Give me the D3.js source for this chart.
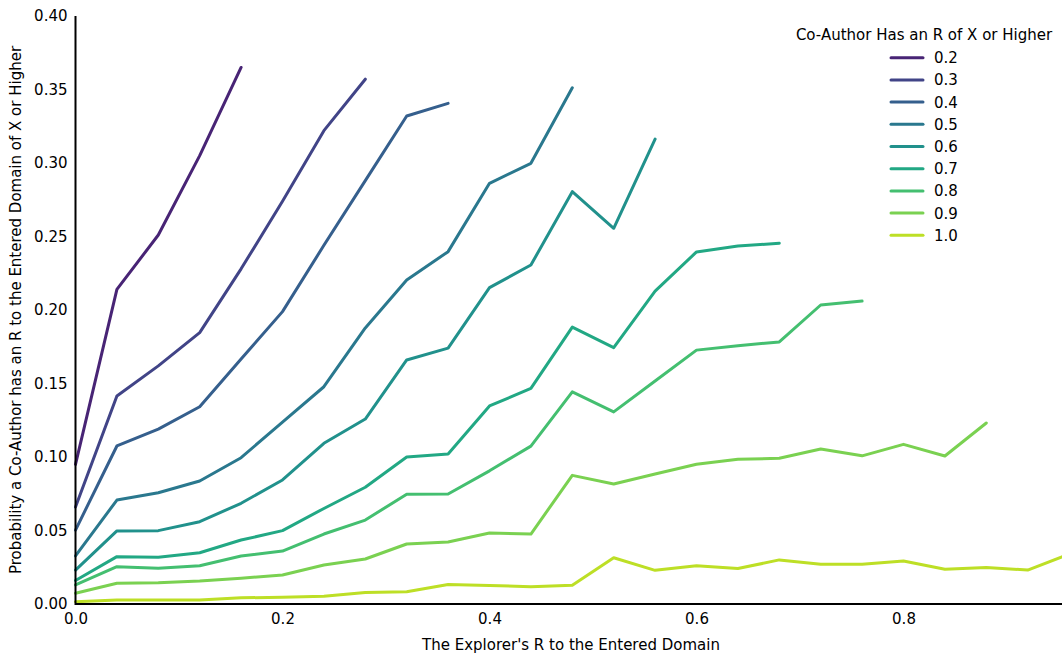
<!DOCTYPE html>
<html>
<head>
<meta charset="utf-8">
<script src="https://cdn.jsdelivr.net/npm/d3@7"></script>
<style>
  html, body { margin: 0; padding: 0; background: #fff; }
  svg { display: block; font-family: "DejaVu Sans", sans-serif; }
</style>
</head>
<body>
<div id="chart"></div>
<script>
// x positions (explorer's R), step 0.04
const xValues = [0.00, 0.04, 0.08, 0.12, 0.16, 0.20, 0.24, 0.28, 0.32, 0.36, 0.40, 0.44,
                 0.48, 0.52, 0.56, 0.60, 0.64, 0.68, 0.72, 0.76, 0.80, 0.84, 0.88, 0.92, 0.96];

const seriesNames = ["0.2", "0.3", "0.4", "0.5", "0.6", "0.7", "0.8", "0.9", "1.0"];

const s02 = [0.095, 0.214, 0.251, 0.305, 0.365];
const s03 = [0.066, 0.1415, 0.162, 0.1846, 0.228, 0.274, 0.322, 0.357];
const s04 = [0.0503, 0.1075, 0.119, 0.1342, 0.1667, 0.1989, 0.244, 0.288, 0.332, 0.3406];
const s05 = [0.0327, 0.0707, 0.0757, 0.0837, 0.0995, 0.1238, 0.1478, 0.1878, 0.2204, 0.2397,
             0.2862, 0.2998, 0.3512];
const s06 = [0.0231, 0.0497, 0.0499, 0.056, 0.0685, 0.0844, 0.1093, 0.1258, 0.166, 0.1741,
             0.2152, 0.2306, 0.2805, 0.2556, 0.3163];
const s07 = [0.016, 0.0322, 0.0318, 0.0349, 0.0435, 0.0499, 0.0650, 0.0794, 0.1, 0.102,
             0.1347, 0.1467, 0.1884, 0.1744, 0.2129, 0.2395, 0.2435, 0.2454];
const s08 = [0.013, 0.0254, 0.0243, 0.026, 0.0327, 0.036, 0.0476, 0.0571, 0.0747, 0.0748,
             0.0906, 0.1074, 0.1443, 0.1307, 0.1517, 0.1727, 0.1757, 0.1783, 0.2034, 0.2061];
const s09 = [0.0073, 0.0141, 0.0145, 0.0156, 0.0175, 0.0197, 0.0265, 0.0306, 0.0408, 0.0422,
             0.0483, 0.0476, 0.0875, 0.0816, 0.0884, 0.0951, 0.0984, 0.0991, 0.1054, 0.1008,
             0.1086, 0.1007, 0.1231];
const s10 = [0.0016, 0.0027, 0.0027, 0.0028, 0.0042, 0.0046, 0.0052, 0.0078, 0.0084, 0.0132,
             0.0126, 0.0118, 0.0127, 0.0315, 0.0229, 0.026, 0.0241, 0.030, 0.027, 0.027,
             0.0293, 0.0237, 0.0249, 0.0231, 0.034];

const allSeries = [s02, s03, s04, s05, s06, s07, s08, s09, s10];

const xTicks = [0.0, 0.2, 0.4, 0.6, 0.8];
const yTicks = [0.00, 0.05, 0.10, 0.15, 0.20, 0.25, 0.30, 0.35, 0.40];

const width = 1062;
const height = 655;
const fontSize = "15px";

const svg = d3.select("#chart")
    .append("svg")
    .attr("width", width)
    .attr("height", height);

// plot area runs past the right edge of the picture (clipped like the original)
const x = d3.scaleLinear().domain([0, 1]).range([75.5, 1110.5]);
const y = d3.scaleLinear().domain([0, 0.4]).range([604, 16]);

// viridis, sampled the way seaborn does for 9 colours
const colors = seriesNames.map((d, i) => d3.interpolateViridis((i + 1) / 10));

// axes (no tick marks, only labels)
const xAxis = svg.append("g")
    .attr("transform", `translate(0,${y(0)})`)
    .call(d3.axisBottom(x).tickValues(xTicks).tickSize(0).tickPadding(9).tickFormat(d3.format(".1f")));
xAxis.select(".domain").remove();
xAxis.selectAll("text").style("font-size", fontSize).style("fill", "#000")
    .style("font-family", "DejaVu Sans, sans-serif");

const yAxis = svg.append("g")
    .attr("transform", `translate(${x(0)},0)`)
    .call(d3.axisLeft(y).tickValues(yTicks).tickSize(0).tickPadding(8).tickFormat(d3.format(".2f")));
yAxis.select(".domain").remove();
yAxis.selectAll("text").style("font-size", fontSize).style("fill", "#000")
    .style("font-family", "DejaVu Sans, sans-serif");

// lines
const line = d3.line()
    .x((d, i) => x(xValues[i]))
    .y(d => y(d));

svg.append("g")
    .selectAll("path")
    .data(allSeries)
    .enter()
    .append("path")
    .attr("d", d => line(d))
    .attr("fill", "none")
    .attr("stroke", (d, i) => colors[i])
    .attr("stroke-width", 3)
    .attr("stroke-linejoin", "round")
    .attr("stroke-linecap", "round");

// spines
svg.append("line")
    .attr("x1", x(0)).attr("x2", width)
    .attr("y1", y(0)).attr("y2", y(0))
    .attr("stroke", "#000").attr("stroke-width", 2);
svg.append("line")
    .attr("x1", x(0)).attr("x2", x(0))
    .attr("y1", y(0.4)).attr("y2", y(0) + 1)
    .attr("stroke", "#000").attr("stroke-width", 2);

// axis titles
svg.append("text")
    .attr("x", 571)
    .attr("y", 650)
    .attr("text-anchor", "middle")
    .style("font-size", fontSize)
    .text("The Explorer's R to the Entered Domain");

svg.append("text")
    .attr("transform", `translate(21,${(y(0) + y(0.4)) / 2}) rotate(-90)`)
    .attr("text-anchor", "middle")
    .style("font-size", fontSize)
    .text("Probability a Co-Author has an R to the Entered Domain of X or Higher");

// legend
const legend = svg.append("g").attr("transform", "translate(890,0)");
legend.append("text")
    .attr("x", 34)
    .attr("y", 40)
    .attr("text-anchor", "middle")
    .style("font-size", fontSize)
    .text("Co-Author Has an R of X or Higher");

const rows = legend.selectAll(".row")
    .data(seriesNames)
    .enter()
    .append("g")
    .attr("class", "row")
    .attr("transform", (d, i) => `translate(0,${57.7 + i * 22.2})`);

rows.append("line")
    .attr("x1", 1).attr("x2", 33)
    .attr("stroke", (d, i) => colors[i])
    .attr("stroke-width", 3)
    .attr("stroke-linecap", "round");

rows.append("text")
    .attr("x", 44)
    .attr("y", 5.5)
    .style("font-size", fontSize)
    .text(d => d);
</script>
</body>
</html>
